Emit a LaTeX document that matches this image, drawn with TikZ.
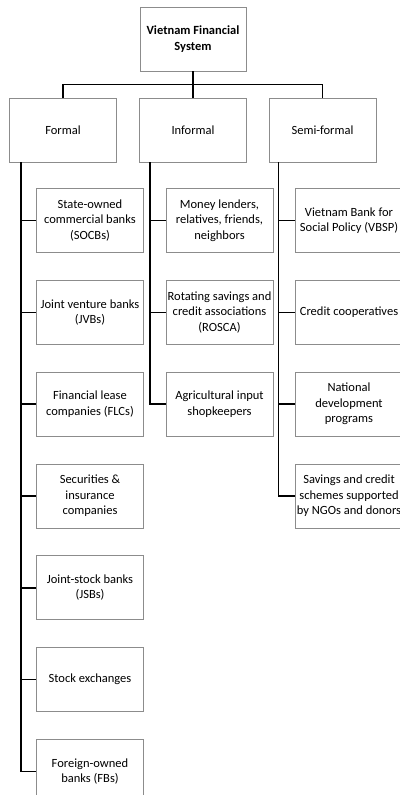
\documentclass[tikz,border=0pt]{standalone}
\usepackage{fontspec}
\setmainfont{Carlito}
\usepackage{tikz}
\usetikzlibrary{positioning}

\begin{document}
\begin{tikzpicture}[x=1pt,y=-1pt,
		box/.style={draw=black!45,line width=0.8pt,align=center,minimum width=107pt,minimum height=64pt,inner sep=1pt,font=\fontsize{12.5}{15.5}\selectfont},
		link/.style={draw=black,line width=1.6pt}]
	\useasboundingbox (0,0) rectangle (399,795);
	% top and the three branches
	\node[box,minimum width=106pt,font=\bfseries\fontsize{12.5}{15.5}\selectfont] (root) at (193,39) {Vietnam Financial\\System};
	\node[box] (formal) at (63,130) {Formal};
	\node[box] (informal) at (193,130) {Informal};
	\node[box] (semi) at (322.5,130) {Semi-formal};
	% formal
	\node[box] (f1) at (90,220.5) {State-owned\\commercial banks\\(SOCBs)};
	\node[box,below=27pt of f1] (f2) {Joint venture banks\\(JVBs)};
	\node[box,below=27pt of f2] (f3) {Financial lease\\companies (FLCs)};
	\node[box,below=27pt of f3] (f4) {Securities \&\\insurance\\companies};
	\node[box,below=27pt of f4] (f5) {Joint-stock banks\\(JSBs)};
	\node[box,below=27pt of f5] (f6) {Stock exchanges};
	\node[box,below=27pt of f6] (f7) {Foreign-owned\\banks (FBs)};
	% informal
	\node[box] (i1) at (219.5,220.5) {Money lenders,\\relatives, friends,\\neighbors};
	\node[box,below=27pt of i1] (i2) {Rotating savings and\\credit associations\\(ROSCA)};
	\node[box,below=27pt of i2] (i3) {Agricultural input\\shopkeepers};
	% semi-formal
	\node[box] (s1) at (349,220.5) {Vietnam Bank for\\Social Policy (VBSP)};
	\node[box,below=27pt of s1] (s2) {Credit cooperatives};
	\node[box,below=27pt of s2] (s3) {National\\development\\programs};
	\node[box,below=27pt of s3] (s4) {Savings and credit\\schemes supported\\by NGOs and donors};

	\path[link]
	(root.south) -- ++(0,13) -| (formal.north)
	(root.south) -- ++(0,13) -| (semi.north)
	(root.south) -- (informal.north)
	([xshift=12pt]formal.south west) |- (f1.west)
	([xshift=12pt]formal.south west) |- (f2.west)
	([xshift=12pt]formal.south west) |- (f3.west)
	([xshift=12pt]formal.south west) |- (f4.west)
	([xshift=12pt]formal.south west) |- (f5.west)
	([xshift=12pt]formal.south west) |- (f6.west)
	([xshift=12pt]formal.south west) |- (f7.west)
	([xshift=11pt]informal.south west) |- (i1.west)
	([xshift=11pt]informal.south west) |- (i2.west)
	([xshift=11pt]informal.south west) |- (i3.west)
	([xshift=10pt]semi.south west) |- (s1.west)
	([xshift=10pt]semi.south west) |- (s2.west)
	([xshift=10pt]semi.south west) |- (s3.west)
	([xshift=10pt]semi.south west) |- (s4.west)
	;
\end{tikzpicture}
\end{document}
